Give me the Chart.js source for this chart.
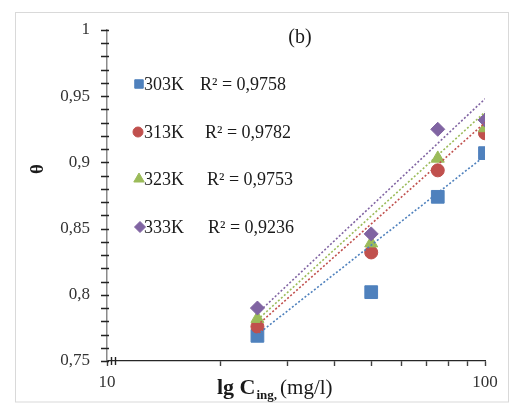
<!DOCTYPE html>
<html><head><meta charset="utf-8">
<script src="https://cdn.jsdelivr.net/npm/chart.js@4/dist/chart.umd.min.js"></script>
<style>html,body{margin:0;padding:0;background:#fff}#wrap{width:510px;height:406px;position:relative}</style>
</head><body><div id="wrap"><canvas id="c" width="510" height="406"></canvas></div>
<script>
// ---- data ----
const concentrations = [25, 50, 75, 100];
const theta303K = [0.769, 0.802, 0.874, 0.907];
const theta313K = [0.776, 0.832, 0.894, 0.922];
const theta323K = [0.782, 0.839, 0.903, 0.926];
const theta333K = [0.790, 0.846, 0.925, 0.932];
const trendX = [25, 100];
const trend303K = [0.770, 0.905];
const trend313K = [0.777, 0.930];
const trend323K = [0.781, 0.938];
const trend333K = [0.786, 0.948];
const seriesNames = ['303K', '313K', '323K', '333K'];
const r2Labels = ['R\u00b2 = 0,9758', 'R\u00b2 = 0,9782', 'R\u00b2 = 0,9753', 'R\u00b2 = 0,9236'];
const xTickValues = [10, 20, 30, 40, 50, 60, 70, 80, 90, 100];
const xTickLabels = ['10', '', '', '', '', '', '', '', '', '100'];
const yMajorValues = [0.75, 0.8, 0.85, 0.9, 0.95, 1];
const yTickLabels = ['0,75', '0,8', '0,85', '0,9', '0,95', '1'];
const yMinorStep = 0.01;

// ---- styles ----
const colors = ['#4F81BD', '#C0504D', '#9BBB59', '#8064A2'];
const styles = ['rect', 'circle', 'triangle', 'rectRot'];
const radii = [9, 6.5, 7.5, 7];
const legendRadii = [6, 5, 6, 5.5];
const SERIF = '"Liberation Serif", "Times New Roman", serif';

const pts = (xs, ys) => xs.map((x, i) => ({x: x, y: ys[i]}));
const seriesY = [theta303K, theta313K, theta323K, theta333K];
const trendY = [trend303K, trend313K, trend323K, trend333K];

const datasets = [];
seriesY.forEach((ys, i) => {
  datasets.push({
    type: 'scatter', label: seriesNames[i], data: pts(concentrations, ys),
    pointStyle: styles[i], pointRadius: radii[i], pointHoverRadius: radii[i],
    backgroundColor: colors[i], borderColor: colors[i], borderWidth: 1,
    order: 10 - i
  });
});
trendY.forEach((ys, i) => {
  datasets.push({
    type: 'line', label: 'trend ' + seriesNames[i], data: pts(trendX, ys),
    borderColor: colors[i], borderWidth: 1.6, borderDash: [2, 2],
    pointRadius: 0, fill: false, tension: 0, order: 1
  });
});

const deco = {
  id: 'deco',
  beforeDraw(chart) {
    const ctx = chart.ctx;
    ctx.save();
    ctx.fillStyle = '#fff';
    ctx.fillRect(0, 0, chart.width, chart.height);
    ctx.strokeStyle = '#d9d9d9';
    ctx.lineWidth = 1;
    ctx.strokeRect(15.5, 12.5, 493, 389.5);
    ctx.restore();
  },
  afterDraw(chart) {
    const ctx = chart.ctx;
    const ys = chart.scales.y, xs = chart.scales.x;
    const axisX = chart.chartArea.left;
    ctx.save();
    // y tick marks (every 0.01)
    ctx.strokeStyle = '#222';
    ctx.lineWidth = 1.4;
    ctx.beginPath();
    const nMinor = Math.round((ys.max - ys.min) / yMinorStep);
    for (let k = 0; k <= nMinor; k++) {
      const py = Math.round(ys.getPixelForValue(ys.min + k * yMinorStep)) + 0.5;
      ctx.moveTo(axisX - 6, py);
      ctx.lineTo(axisX + 2, py);
    }
    // axis break marks near the origin
    ctx.moveTo(axisX + 4.5, xs.top - 4); ctx.lineTo(axisX + 4.5, xs.top + 4);
    ctx.moveTo(axisX + 8.5, xs.top - 4); ctx.lineTo(axisX + 8.5, xs.top + 4);
    ctx.stroke();

    const rowsY = [84, 132, 179, 227];
    const markX = [139, 138, 139, 140];
    const r2X = [200, 205, 207, 208];
    ctx.font = '18px ' + SERIF;
    ctx.textBaseline = 'middle';
    for (let i = 0; i < 4; i++) {
      ctx.fillStyle = colors[i];
      ctx.strokeStyle = colors[i];
      ctx.lineWidth = 1;
      Chart.helpers.drawPoint(ctx, {pointStyle: styles[i], radius: legendRadii[i], borderWidth: 1, rotation: 0}, markX[i], rowsY[i]);
      ctx.fillStyle = '#1a1a1a';
      ctx.textAlign = 'left';
      ctx.fillText(seriesNames[i], 144, rowsY[i] + 1);
      ctx.fillText(r2Labels[i], r2X[i], rowsY[i] + 1);
    }
    ctx.font = '20px ' + SERIF;
    ctx.textAlign = 'center';
    ctx.fillText('(b)', 300, 38);
    ctx.textAlign = 'left';
    ctx.textBaseline = 'alphabetic';
    let x = 217;
    ctx.font = 'bold 22px ' + SERIF;
    ctx.fillText('lg C', x, 394);
    x += ctx.measureText('lg C').width;
    ctx.font = 'bold 13px ' + SERIF;
    ctx.fillText('ing,', x + 1, 399);
    x += ctx.measureText('ing,').width + 4;
    ctx.font = '21px ' + SERIF;
    ctx.fillText('(mg/l)', x, 394);
    ctx.translate(38, 169);
    ctx.rotate(-Math.PI / 2);
    ctx.font = 'bold 19px ' + SERIF;
    ctx.textAlign = 'center';
    ctx.textBaseline = 'middle';
    ctx.fillText('\u03b8', 0, 0);
    ctx.restore();
  }
};

new Chart(document.getElementById('c'), {
  type: 'scatter',
  data: {datasets: datasets},
  plugins: [deco],
  options: {
    responsive: false,
    animation: false,
    layout: {padding: {left: 20, top: 30, right: 25, bottom: 0}},
    plugins: {legend: {display: false}, tooltip: {enabled: false}},
    scales: {
      x: {
        type: 'logarithmic', min: 10, max: 100,
        afterFit: s => { s.height = 45; },
        afterBuildTicks: s => { s.ticks = xTickValues.map(v => ({value: v})); },
        border: {color: '#262626', width: 1.3},
        grid: {drawOnChartArea: false, drawTicks: true, tickLength: 5, tickWidth: 1.4, tickColor: '#404040', color: '#404040'},
        ticks: {
          autoSkip: false, maxRotation: 0, padding: 6,
          color: '#333', font: {family: SERIF, size: 17},
          callback: (v, i) => xTickLabels[i]
        }
      },
      y: {
        type: 'linear', min: 0.75, max: 1,
        afterFit: s => { s.width = 87; },
        afterBuildTicks: s => { s.ticks = yMajorValues.map(v => ({value: v})); },
        border: {color: '#8a8a8a', width: 1.5},
        grid: {drawOnChartArea: false, drawTicks: false},
        ticks: {
          autoSkip: false, padding: 17,
          color: '#333', font: {family: SERIF, size: 17},
          callback: (v, i) => yTickLabels[i]
        }
      }
    }
  }
});
</script></body></html>
